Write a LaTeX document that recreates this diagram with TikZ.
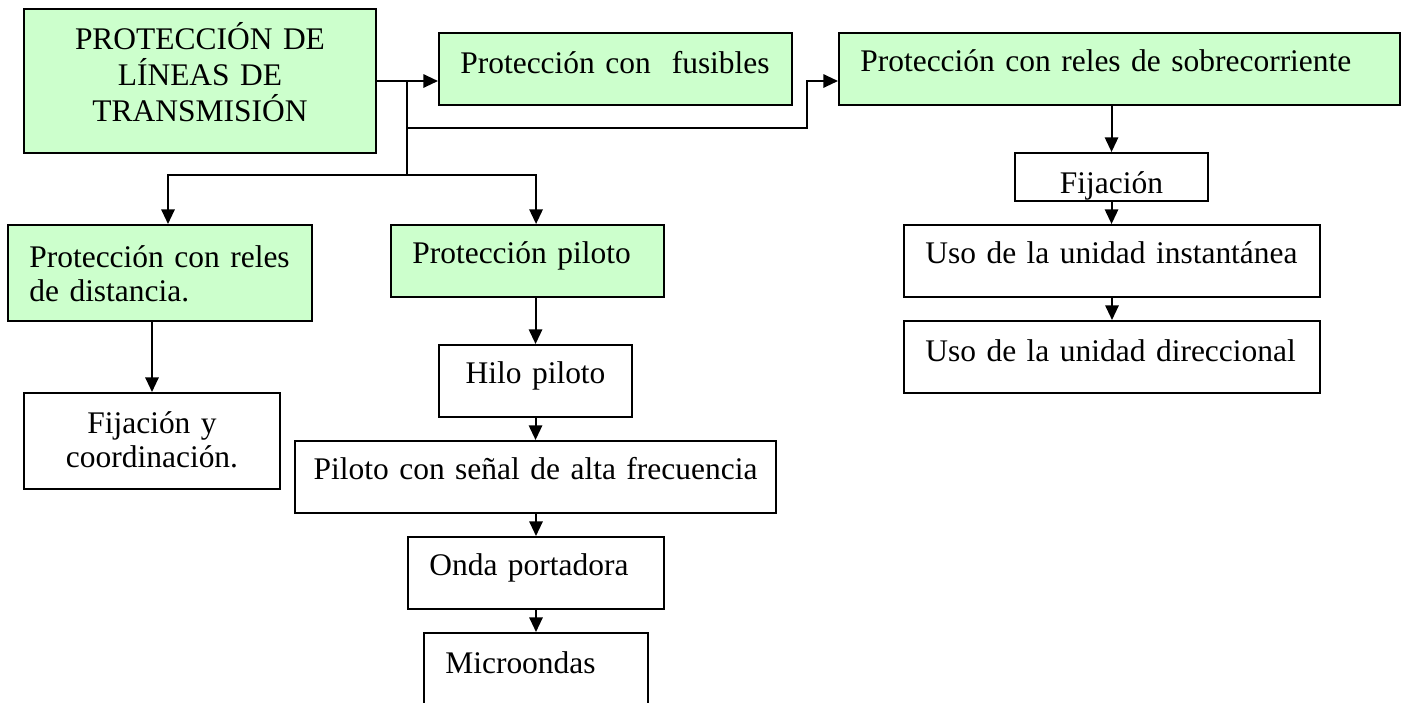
\documentclass[tikz,border=0pt]{standalone}
\usepackage{fontspec}
\setmainfont{Liberation Serif}
\usetikzlibrary{arrows.meta}
\definecolor{boxgreen}{HTML}{CCFFCC}
\newcommand{\pad}{\hspace*{8pt}}
\begin{document}
\begin{tikzpicture}[x=0.375pt,y=-0.375pt,>={Triangle[length=5.5pt,width=5pt]},line width=0.75pt]
  \tikzstyle{plainbox}=[draw, anchor=north west, inner sep=0pt, font=\fontsize{11.8}{13}\selectfont]
  \tikzstyle{greenbox}=[plainbox, fill=boxgreen]
  \useasboundingbox (0,0) rectangle (1401,702);

  \node[greenbox, text width=132pt, align=center, text height=15pt, text depth=39pt, font=\fontsize{11.8}{13.5}\selectfont] (main) at (23,8) {PROTECCIÓN DE\\LÍNEAS DE\\TRANSMISIÓN};
  \node[greenbox, text width=132.4pt, align=left, text height=15pt, text depth=12pt] (fus) at (438,32) {\pad Protección con\ \ fusibles};
  \node[greenbox, text width=210.4pt, align=left, text height=14.6pt, text depth=12.4pt] (sobre) at (838,32) {\pad Protección con reles de sobrecorriente};

  \node[greenbox, text width=114pt, align=left, text height=15.75pt, text depth=20.25pt] (dist) at (7,224) {\pad Protección con reles\\\pad de distancia.};
  \node[greenbox, text width=102.4pt, align=left, text height=14.6pt, text depth=12.4pt] (piloto) at (390,224) {\pad Protección piloto};
  \node[plainbox, text width=96pt, align=center, text height=15pt, text depth=21pt] (fijcoord) at (23,392) {Fijación y\\coordinación.};

  \node[plainbox, text width=72.4pt, align=center, text height=14.6pt, text depth=12.4pt] (hilo) at (438,344) {Hilo piloto};
  \node[plainbox, text width=180.4pt, align=center, text height=14.25pt, text depth=12.75pt] (senal) at (294,440) {Piloto con señal de alta frecuencia};
  \node[plainbox, text width=96pt, align=left, text height=14.6pt, text depth=12.4pt] (onda) at (407,536) {\pad Onda portadora};
  \node[plainbox, text width=84pt, align=left, text height=15pt, text depth=13pt] (micro) at (423,632) {\pad Microondas};

  \node[plainbox, text width=72.4pt, align=center, text height=15pt, text depth=3pt] (fij) at (1014,152) {Fijación};
  \node[plainbox, text width=156pt, align=left, text height=14.6pt, text depth=12.4pt] (inst) at (903,224) {\pad Uso de la unidad instantánea};
  \node[plainbox, text width=156pt, align=left, text height=15pt, text depth=12pt] (dir) at (903,320) {\pad Uso de la unidad direccional};

  % ramas desde el bloque principal
  \coordinate (hub) at (407,80);
  \coordinate (hubdown) at (407,175);
  \coordinate (bend) at (807,128);
  \draw[->] (main.east) -- (main.east -| fus.west);
  \draw (hub) -- (hubdown);
  \draw[->] (hub |- bend) -- (bend) |- (sobre.west |- main.east);
  \draw[->] (hubdown) -| ([xshift=3pt]dist.north);
  \draw[->] (hubdown) -| ([xshift=3.2pt]piloto.north);

  \draw[->] (fijcoord.north |- dist.south) -- (fijcoord.north);
  \draw[->] (hilo.north |- piloto.south) -- (hilo.north);
  \draw[->] (hilo.south) -- (hilo.south |- senal.north);
  \draw[->] (onda.north |- senal.south) -- (onda.north);
  \draw[->] (onda.south) -- (onda.south |- micro.north);

  \draw[->] (fij.north |- sobre.south) -- (fij.north);
  \draw[->] (fij.south) -- (fij.south |- inst.north);
  \draw[->] (inst.south) -- (dir.north);
\end{tikzpicture}
\end{document}
